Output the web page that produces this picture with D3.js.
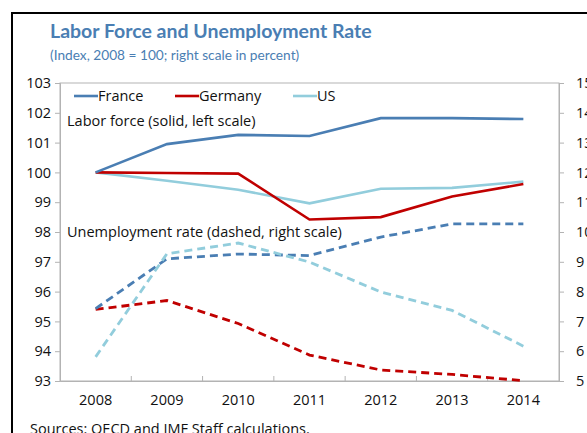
<!DOCTYPE html>
<html lang="en">
<head>
  <meta charset="UTF-8">
  <title>Labor Force and Unemployment Rate</title>
  <script src="https://d3js.org/d3.v7.min.js"></script>
  <style>
    body { margin: 0; background: #fff; overflow: hidden; }
    svg { display: block; font-family: "Open Sans", "Noto Sans", sans-serif; }
  </style>
</head>
<body>
  <svg id="chart" width="587" height="433"></svg>
  <script>
    // Data
    const years = ["2008", "2009", "2010", "2011", "2012", "2013", "2014"];
    const leftTicks = [93, 94, 95, 96, 97, 98, 99, 100, 101, 102, 103];
    const rightTicks = [5, 6, 7, 8, 9, 10, 11, 12, 13, 14, 15];

    // Labor force index (solid, left scale)
    const franceLabor  = [100, 100.95, 101.26, 101.22, 101.82, 101.82, 101.79];
    const germanyLabor = [100, 99.98, 99.96, 98.42, 98.5, 99.19, 99.61];
    const usLabor      = [100, 99.72, 99.42, 98.96, 99.45, 99.48, 99.69];

    // Unemployment rate in percent (dashed, right scale)
    const franceUnemp  = [7.43, 9.1, 9.26, 9.21, 9.83, 10.27, 10.27];
    const germanyUnemp = [7.4, 7.7, 6.93, 5.87, 5.37, 5.22, 5.01];
    const usUnemp      = [5.81, 9.27, 9.63, 8.99, 7.99, 7.37, 6.17];

    const colors = { France: "#4a7eb3", Germany: "#c00000", US: "#92cddc" };

    const svg = d3.select("#chart");
    const margin = { left: 60, right: 28, top: 83, bottom: 52 };
    const width = 587 - margin.left - margin.right;
    const height = 433 - margin.top - margin.bottom;

    // outer black frame (runs off right and bottom edges)
    svg.append("path")
      .attr("d", "M12,440 L12,13 L600,13")
      .attr("fill", "none")
      .attr("stroke", "#000")
      .attr("stroke-width", 2);

    // title and subtitle
    svg.append("text")
      .attr("x", 50).attr("y", 38)
      .attr("font-size", 19.5).attr("font-weight", "bold")
      .attr("fill", "#4a7eb3")
      .style("font-family", "Lato, \"Open Sans\", sans-serif")
      .text("Labor Force and Unemployment Rate");
    svg.append("text")
      .attr("x", 50).attr("y", 60)
      .attr("font-size", 13.7)
      .attr("fill", "#4a7eb3")
      .style("font-family", "Lato, \"Open Sans\", sans-serif")
      .text("(Index, 2008 = 100; right scale in percent)");

    const g = svg.append("g")
      .attr("transform", `translate(${margin.left},${margin.top})`);

    const x = d3.scaleBand().domain(years).range([0, width]);
    const yL = d3.scaleLinear().domain([93, 103]).range([height, 0]);
    const yR = d3.scaleLinear().domain([5, 15]).range([height, 0]);

    // plot border
    g.append("rect")
      .attr("width", width).attr("height", height)
      .attr("fill", "none").attr("stroke", "#b3b3b3").attr("stroke-width", 1);

    // left axis
    const axL = g.append("g")
      .call(d3.axisLeft(yL).tickValues(leftTicks).tickSize(5).tickPadding(4));
    // right axis
    const axR = g.append("g")
      .attr("transform", `translate(${width},0)`)
      .call(d3.axisRight(yR).tickValues(rightTicks).tickSize(5).tickPadding(12));
    // bottom axis: labels centred, ticks between categories
    const axB = g.append("g")
      .attr("transform", `translate(0,${height})`)
      .call(d3.axisBottom(x).tickSize(0).tickPadding(14));
    g.append("g")
      .selectAll("line")
      .data(years.slice(1))
      .join("line")
      .attr("x1", d => x(d)).attr("x2", d => x(d))
      .attr("y1", height).attr("y2", height - 5)
      .attr("stroke", "#b3b3b3");

    [axL, axR, axB].forEach(a => {
      a.select(".domain").attr("stroke", "#b3b3b3");
      a.selectAll(".tick line").attr("stroke", "#b3b3b3");
      a.selectAll(".tick text")
        .attr("font-size", 14.5)
        .attr("fill", "#111")
        .style("font-family", "\"Open Sans\", \"Noto Sans\", sans-serif");
    });

    const cx = d => x(d) + x.bandwidth() / 2;
    const lineL = d3.line().x((d, i) => cx(years[i])).y(d => yL(d));
    const lineR = d3.line().x((d, i) => cx(years[i])).y(d => yR(d));

    const solid = [
      ["US", usLabor], ["Germany", germanyLabor], ["France", franceLabor]
    ];
    const dashed = [
      ["Germany", germanyUnemp], ["France", franceUnemp], ["US", usUnemp]
    ];

    dashed.forEach(([name, vals]) => {
      g.append("path")
        .datum(vals)
        .attr("fill", "none")
        .attr("stroke", colors[name])
        .attr("stroke-width", 2.8)
        .attr("stroke-dasharray", "8,5")
        .attr("d", lineR);
    });
    solid.forEach(([name, vals]) => {
      g.append("path")
        .datum(vals)
        .attr("fill", "none")
        .attr("stroke", colors[name])
        .attr("stroke-width", 2.6)
        .attr("d", lineL);
    });

    // legend
    const legend = [["France", 14], ["Germany", 115], ["US", 233]];
    legend.forEach(([name, lx]) => {
      g.append("line")
        .attr("x1", lx).attr("x2", lx + 24)
        .attr("y1", 13).attr("y2", 13)
        .attr("stroke", colors[name]).attr("stroke-width", 2.6);
      g.append("text")
        .attr("x", lx + 24).attr("y", 18)
        .attr("font-size", 14.5).attr("fill", "#111")
        .text(name);
    });

    // annotations
    g.append("text")
      .attr("x", 7).attr("y", 43)
      .attr("font-size", 14.5).attr("fill", "#111")
      .text("Labor force (solid, left scale)");
    g.append("text")
      .attr("x", 7).attr("y", 154)
      .attr("font-size", 14.5).attr("fill", "#111")
      .text("Unemployment rate (dashed, right scale)");

    // source note
    svg.append("text")
      .attr("x", 30).attr("y", 434)
      .attr("font-size", 14.5).attr("fill", "#111")
      .text("Sources: OECD and IMF Staff calculations.");
  </script>
</body>
</html>
